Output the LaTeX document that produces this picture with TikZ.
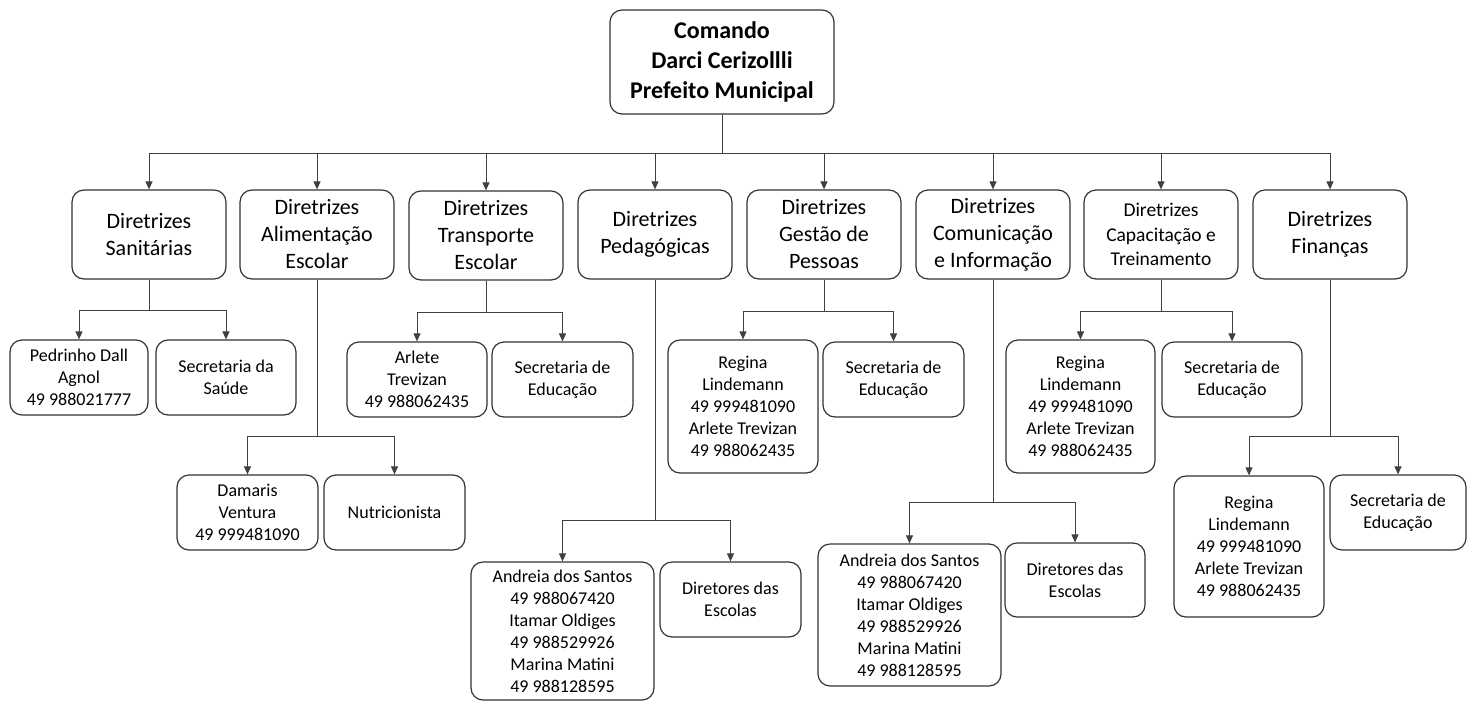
\documentclass[tikz,border=0pt]{standalone}
\usepackage{fontspec}
\setmainfont{Carlito}
\usetikzlibrary{arrows.meta}

\begin{document}
\begin{tikzpicture}[x=1pt,y=-1pt,
	caixa/.style={draw=black!80,line width=1.2pt,rounded corners=12pt,inner sep=0pt,align=center},
	chefe/.style={caixa,minimum width=224pt,minimum height=104pt,font=\fontsize{24}{30}\selectfont\bfseries},
	diretriz/.style={caixa,minimum width=154pt,minimum height=89pt,font=\fontsize{22}{27}\selectfont},
	membro/.style={caixa,minimum height=75pt,font=\fontsize{18}{22}\selectfont},
	seta/.style={draw=black!75,line width=1pt,-{Triangle[width=7pt,length=8pt]}}]
	
	\useasboundingbox (0,0) rectangle (1467,702);
	
	\node[chefe] (topo) at (722,62) {Comando\\Darci Cerizollli\\Prefeito Municipal};
	
	\node[diretriz] (san) at (149,234.5) {Diretrizes\\Sanitárias};
	\node[diretriz] (ali) at (317,234.5) {Diretrizes\\Alimentação\\Escolar};
	\node[diretriz] (tra) at (486,235.5) {Diretrizes\\Transporte\\Escolar};
	\node[diretriz] (ped) at (655,234.5) {Diretrizes\\Pedagógicas};
	\node[diretriz] (ges) at (824,234.5) {Diretrizes\\Gestão de\\Pessoas};
	\node[diretriz] (com) at (993,234.5) {Diretrizes\\Comunicação\\e Informação};
	\node[diretriz,font=\fontsize{19.5}{24.5}\selectfont] (cap) at (1161,234.5) {Diretrizes\\Capacitação e\\Treinamento};
	\node[diretriz] (fin) at (1330,234.5) {Diretrizes\\Finanças};
	
	\node[membro,minimum width=138pt] (pedrinho) at (79,377.5) {Pedrinho Dall\\Agnol\\49 988021777};
	\node[membro,minimum width=140pt] (saude) at (226,377.5) {Secretaria da\\Saúde};
	\node[membro,minimum width=141pt] (damaris) at (247.5,512.5) {Damaris\\Ventura\\49 999481090};
	\node[membro,minimum width=141pt] (nutri) at (394.5,512.5) {Nutricionista};
	\node[membro,minimum width=140pt] (arlete) at (417,379.5) {Arlete\\Trevizan\\49 988062435};
	\node[membro,minimum width=141pt] (secTra) at (562.5,379.5) {Secretaria de\\Educação};
	\node[membro,minimum width=183pt,minimum height=138pt] (andreiaPed) at (562.5,631) {Andreia dos Santos\\49 988067420\\Itamar Oldiges\\49 988529926\\Marina Matini\\49 988128595};
	\node[membro,minimum width=141pt] (dirPed) at (730.5,599.5) {Diretores das\\Escolas};
	\node[membro,minimum width=150pt,minimum height=133pt] (reginaGes) at (743,406.5) {Regina\\Lindemann\\49 999481090\\Arlete Trevizan\\49 988062435};
	\node[membro,minimum width=141pt] (secGes) at (893.5,379.5) {Secretaria de\\Educação};
	\node[membro,minimum width=183pt,minimum height=142pt] (andreiaCom) at (909.5,615) {Andreia dos Santos\\49 988067420\\Itamar Oldiges\\49 988529926\\Marina Matini\\49 988128595};
	\node[membro,minimum width=140pt,minimum height=74pt] (dirCom) at (1075,580) {Diretores das\\Escolas};
	\node[membro,minimum width=149pt,minimum height=133pt] (reginaCap) at (1080.5,406.5) {Regina\\Lindemann\\49 999481090\\Arlete Trevizan\\49 988062435};
	\node[membro,minimum width=140pt] (secCap) at (1232,379.5) {Secretaria de\\Educação};
	\node[membro,minimum width=150pt,minimum height=141pt] (reginaFin) at (1249,546.5) {Regina\\Lindemann\\49 999481090\\Arlete Trevizan\\49 988062435};
	\node[membro,minimum width=136pt] (secFin) at (1398,512.5) {Secretaria de\\Educação};
	
	\foreach \n in {san,ali,tra,ped,ges,com,cap,fin}
		\draw[seta] (topo.south) -- ++(0,39) -| (\n.north);
	
	\foreach \p/\d/\a/\b in {san/31/pedrinho/saude, ali/157/damaris/nutri, tra/32/arlete/secTra, ped/241/andreiaPed/dirPed, ges/32/reginaGes/secGes, com/223/andreiaCom/dirCom, cap/32/reginaCap/secCap, fin/157/reginaFin/secFin}{
		\draw[seta] (\p.south) -- ++(0,\d) -| (\a.north);
		\draw[seta] (\p.south) -- ++(0,\d) -| (\b.north);
	}
\end{tikzpicture}
\end{document}
